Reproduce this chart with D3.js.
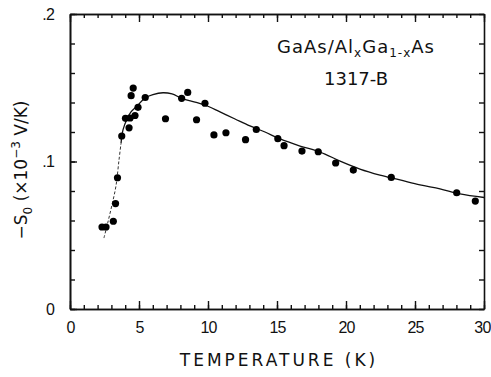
<!DOCTYPE html>
<html>
<head>
<meta charset="utf-8">
<script src="https://cdn.jsdelivr.net/npm/d3@7"></script>
<style>
  body { margin: 0; background: #fff; }
  svg { display: block; }
  text { font-family: "DejaVu Sans", "Liberation Sans", sans-serif; fill: #111; }
</style>
</head>
<body>
<figure id="chart" style="margin:0"></figure>
<script>
// measured points: temperature (K) and -S0 (x10^-3 V/K)
const tempPts = [2.32, 2.61, 3.14, 3.30, 3.44, 3.75, 4.28, 4.02, 4.35, 4.71, 4.93, 4.43, 4.58, 5.45,
  6.92, 8.09, 8.53, 9.17, 9.78, 10.43, 11.30, 12.72, 13.50, 15.06, 15.51, 16.81, 17.99,
  19.25, 20.53, 23.28, 28.02, 29.37];
const s0Pts = [0.0556, 0.0556, 0.0595, 0.0715, 0.0890, 0.1173, 0.1228, 0.1293, 0.1295, 0.1312, 0.1367, 0.1446, 0.1498, 0.1434,
  0.1290, 0.1428, 0.1468, 0.1283, 0.1395, 0.1180, 0.1195, 0.1148, 0.1217, 0.1155, 0.1107, 0.1071, 0.1066,
  0.0990, 0.0942, 0.0892, 0.0788, 0.0732];

// fitted curve, steep low-T part drawn dotted
const fitTempLow = [2.46, 2.75, 3.04, 3.33, 3.55, 3.70];
const fitS0Low = [0.0481, 0.0590, 0.0705, 0.0834, 0.1010, 0.1125];
const fitTemp = [3.70, 3.84, 4.13, 4.42, 4.86, 5.43, 6.01, 6.74, 7.39, 8.12, 9.06, 9.78, 10.87, 11.96,
  13.04, 14.13, 15.22, 16.67, 18.12, 19.57, 21.01, 22.46, 23.91, 25.36, 26.81, 28.26, 30.0];
const fitS0 = [0.1125, 0.1214, 0.1288, 0.1336, 0.1376, 0.1431, 0.1454, 0.1466, 0.1458, 0.1427, 0.1403, 0.1383, 0.1336, 0.1288,
  0.1241, 0.1200, 0.1153, 0.1105, 0.1064, 0.1003, 0.0949, 0.0908, 0.0875, 0.0841, 0.0814, 0.0780, 0.0756];

const xMajor = [0, 5, 10, 15, 20, 25, 30];
const yMajor = [0, 0.1, 0.2];
const yLabels = ["0", ".1", ".2"];

const width = 491, height = 377;
const mLeft = 70, mRight = 484, mTop = 14, mBottom = 309;

const svg = d3.select("figure#chart")
  .append("svg")
  .attr("width", width)
  .attr("height", height);

const x = d3.scaleLinear().domain([0, 30]).range([mLeft, mRight]);
const y = d3.scaleLinear().domain([0, 0.2]).range([mBottom, mTop]);

function styleAxis(g) {
  g.selectAll("path.domain").attr("stroke", "#111").attr("stroke-width", 1.6);
  g.selectAll(".tick line").attr("stroke", "#111").attr("stroke-width", 1.4);
  g.selectAll(".tick text")
    .style("font-family", "'Liberation Sans', sans-serif")
    .style("font-size", "16px")
    .style("letter-spacing", "-0.8px")
    .attr("fill", "#111");
}

// bottom axis: minor + major ticks pointing inward
svg.append("g")
  .attr("transform", "translate(0," + mBottom + ")")
  .call(d3.axisBottom(x).tickValues(d3.range(0, 31)).tickFormat("").tickSize(-4).tickSizeOuter(0))
  .call(styleAxis);
const xLab = svg.append("g")
  .attr("transform", "translate(0," + mBottom + ")")
  .call(d3.axisBottom(x).tickValues(xMajor).tickFormat(d3.format("d")).tickSize(-8).tickPadding(13).tickSizeOuter(0))
  .call(styleAxis);
// last label sits against the page edge, as in the reference
xLab.selectAll(".tick text").filter(d => d === 30)
  .attr("text-anchor", "end")
  .attr("x", 6);

// top axis
svg.append("g")
  .attr("transform", "translate(0," + mTop + ")")
  .call(d3.axisTop(x).tickValues(d3.range(0, 31)).tickFormat("").tickSize(-4).tickSizeOuter(0))
  .call(styleAxis);
svg.append("g")
  .attr("transform", "translate(0," + mTop + ")")
  .call(d3.axisTop(x).tickValues(xMajor).tickFormat("").tickSize(-8).tickSizeOuter(0))
  .call(styleAxis);

// left axis
svg.append("g")
  .attr("transform", "translate(" + mLeft + ",0)")
  .call(d3.axisLeft(y).tickValues(d3.range(0, 0.201, 0.02)).tickFormat("").tickSize(-5).tickSizeOuter(0))
  .call(styleAxis);
svg.append("g")
  .attr("transform", "translate(" + mLeft + ",0)")
  .call(d3.axisLeft(y).tickValues(yMajor).tickFormat((d, i) => yLabels[i]).tickSize(-7).tickPadding(16).tickSizeOuter(0))
  .call(styleAxis);

// right axis
svg.append("g")
  .attr("transform", "translate(" + mRight + ",0)")
  .call(d3.axisRight(y).tickValues(d3.range(0, 0.201, 0.02)).tickFormat("").tickSize(-5).tickSizeOuter(0))
  .call(styleAxis);

// fitted curve
const line = d3.line()
  .x(d => x(d[0]))
  .y(d => y(d[1]))
  .curve(d3.curveCatmullRom);

svg.append("path")
  .datum(fitTempLow.map((t, i) => [t, fitS0Low[i]]))
  .attr("d", line)
  .attr("fill", "none")
  .attr("stroke", "#333")
  .attr("stroke-width", 1)
  .attr("stroke-dasharray", "3,2");

svg.append("path")
  .datum(fitTemp.map((t, i) => [t, fitS0[i]]))
  .attr("d", line)
  .attr("fill", "none")
  .attr("stroke", "#111")
  .attr("stroke-width", 1.3);

// dots
svg.append("g")
  .selectAll("circle")
  .data(tempPts.map((t, i) => [t, s0Pts[i]]))
  .enter()
  .append("circle")
  .attr("cx", d => x(d[0]))
  .attr("cy", d => y(d[1]))
  .attr("r", 3.6)
  .attr("fill", "#000");

// axis titles
svg.append("text")
  .attr("x", (mLeft + mRight) / 2 + 2)
  .attr("y", 366)
  .attr("text-anchor", "middle")
  .style("font-size", "17px")
  .style("letter-spacing", "3px")
  .text("TEMPERATURE (K)");

const yt = svg.append("text")
  .attr("transform", "translate(27,170) rotate(-90)")
  .attr("text-anchor", "middle")
  .style("font-size", "17px");
yt.append("tspan").text("−S");
yt.append("tspan").attr("dy", 5).style("font-size", "12px").text("0");
yt.append("tspan").attr("dy", -5).text(" (×10");
yt.append("tspan").attr("dy", -7).style("font-size", "12px").text("−3");
yt.append("tspan").attr("dy", 7).text(" V/K)");

// sample annotation
const ann = svg.append("text")
  .attr("x", 356)
  .attr("y", 53)
  .attr("text-anchor", "middle")
  .style("font-size", "18px")
  .style("letter-spacing", "1px");
ann.append("tspan").text("GaAs/Al");
ann.append("tspan").attr("dy", 4).style("font-size", "12px").text("x");
ann.append("tspan").attr("dy", -4).text("Ga");
ann.append("tspan").attr("dy", 4).style("font-size", "12px").text("1-x");
ann.append("tspan").attr("dy", -4).text("As");

svg.append("text")
  .attr("x", 356)
  .attr("y", 85)
  .attr("text-anchor", "middle")
  .style("font-size", "18px")
  .text("1317-B");
</script>
</body>
</html>
